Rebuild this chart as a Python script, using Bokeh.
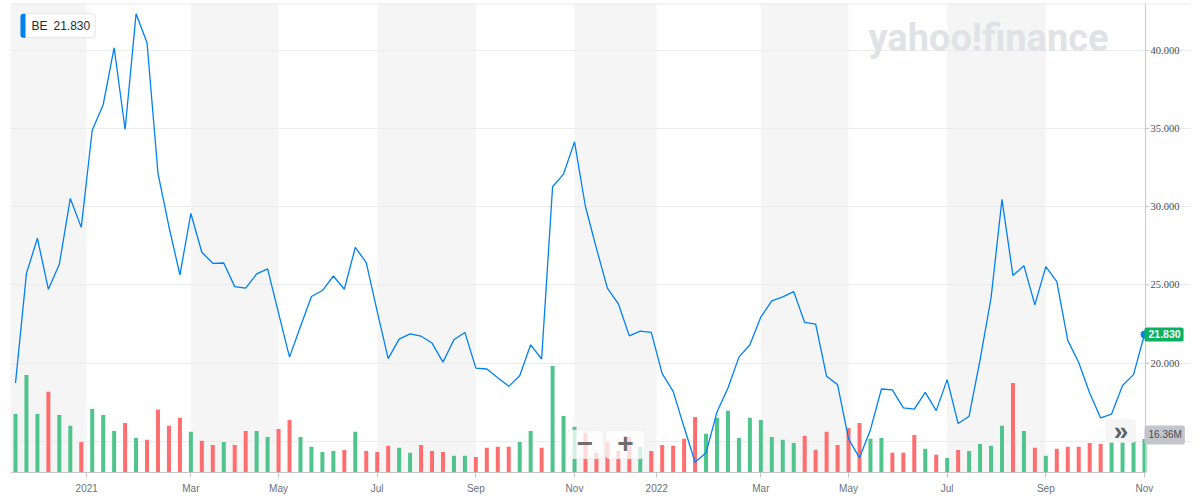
from bokeh.plotting import figure
from bokeh.models import (Range1d, FixedTicker, BoxAnnotation, Label, Span,
                          ColumnDataSource)
from bokeh.embed import file_html
from bokeh.resources import INLINE

# ---- data (weekly, Nov 9 2020 .. Oct 31 2022) ----
symbol = "BE"
price = [18.72, 25.74, 27.98, 24.72, 26.32, 30.53, 28.68, 34.89, 36.53, 40.17,
         34.94, 42.34, 40.49, 32.13, 28.72, 25.64, 29.57, 27.09, 26.38, 26.40,
         24.89, 24.79, 25.70, 26.02, 23.19, 20.38, 22.34, 24.26, 24.64, 25.57,
         24.72, 27.40, 26.43, 23.30, 20.28, 21.53, 21.87, 21.72, 21.28, 20.06,
         21.49, 21.96, 19.68, 19.62, 19.06, 18.51, 19.19, 21.17, 20.26, 31.28,
         32.09, 34.15, 30.00, 27.34, 24.79, 23.79, 21.74, 22.04, 21.96, 19.32,
         18.19, 15.89, 13.66, 14.26, 16.87, 18.40, 20.38, 21.17, 22.94, 23.98,
         24.23, 24.57, 22.60, 22.49, 19.15, 18.62, 15.15, 13.94, 15.74, 18.34,
         18.28, 17.13, 17.06, 18.13, 16.96, 18.94, 16.13, 16.60, 20.21, 24.15,
         30.47, 25.60, 26.23, 23.72, 26.17, 25.21, 21.45, 20.04, 18.09, 16.49,
         16.74, 18.57, 19.26, 21.83]
volume_m = [28.5, 47.4, 28.5, 39.3, 28.0, 22.7, 14.9, 30.9, 28.0, 20.2,
            24.1, 16.8, 15.9, 30.6, 22.8, 26.7, 19.8, 15.4, 13.4, 14.9,
            13.4, 20.2, 20.2, 17.3, 21.2, 25.6, 17.3, 12.5, 10.0, 10.5,
            11.0, 19.8, 10.5, 10.0, 13.0, 12.0, 9.6, 13.4, 10.5, 10.0,
            8.1, 8.1, 7.6, 12.0, 12.5, 12.5, 14.9, 20.2, 12.0, 51.8,
            27.5, 22.2, 19.3, 9.6, 14.9, 10.5, 17.3, 12.5, 10.5, 13.4,
            13.0, 16.4, 27.0, 18.8, 26.6, 30.0, 16.8, 26.6, 25.6, 17.3,
            15.9, 14.4, 17.8, 11.0, 19.8, 13.4, 21.7, 24.1, 16.4, 16.8,
            9.6, 9.6, 18.3, 11.5, 8.6, 7.1, 11.0, 10.5, 13.9, 13.0,
            22.7, 43.5, 20.2, 12.0, 8.1, 11.5, 12.5, 12.5, 14.4, 13.9,
            15.0, 15.0, 15.5, 16.36]
tick_pos = [6.5, 16, 24, 33, 42, 51, 58.5, 68, 76, 85, 94, 103]
tick_labels = ["2021", "Mar", "May", "Jul", "Sep", "Nov",
               "2022", "Mar", "May", "Jul", "Sep", "Nov"]
price_ticks = [15, 20, 25, 30, 35, 40]
price_tick_labels = ["", "20.000", "25.000", "30.000", "35.000", "40.000"]

UP, DOWN = "#4fc48c", "#ff6e6e"
idx = list(range(len(price)))
colors = [UP if i == 0 or price[i] >= price[i - 1] else DOWN for i in idx]
src = ColumnDataSource(dict(x=idx, price=price, vol=volume_m, color=colors))

PX = 10.961                     # pixels per week
X0 = -0.456                     # left edge of the plot area
AX = 103.1                      # position of the price axis

p = figure(width=1194, height=496, title=None,
           x_range=Range1d(X0, X0 + 1180 / PX), y_range=Range1d(13.0, 43.0),
           y_axis_location=None, toolbar_location=None, output_backend="svg",
           min_border_left=10, min_border_right=4, min_border_top=3, min_border_bottom=23)
p.extra_y_ranges = {"vol": Range1d(0, 228.2)}
p.outline_line_color = None
p.background_fill_color = "white"
p.border_fill_color = "white"

# alternating month bands
bounds = [None] + tick_pos
for i in range(0, len(bounds) - 1, 2):
    p.add_layout(BoxAnnotation(left=bounds[i], right=bounds[i + 1],
                               fill_color="#f5f5f5", fill_alpha=1.0,
                               line_color=None, level="image"))

# watermark
p.add_layout(Label(x=(868 - 15) / PX, y=40.81, text="yahoo!finance", text_font="Roboto",
                   text_font_style="bold", text_font_size="38px",
                   text_color="#e0e2e6", text_align="left",
                   text_baseline="alphabetic", level="underlay"))

# grid
p.xgrid.visible = False
p.ygrid.ticker = FixedTicker(ticks=price_ticks)
p.ygrid.bounds = (X0, AX)
p.ygrid.grid_line_color = "#ebebeb"
p.ygrid.grid_line_width = 1

# top border
p.add_layout(Span(location=43.0, dimension="width", line_color="#e2e2ec", line_width=1.5))

# bottom axis
xa = p.xaxis[0]
xa.ticker = FixedTicker(ticks=tick_pos)
xa.major_label_overrides = {t: l for t, l in zip(tick_pos, tick_labels)}
xa.bounds = (X0, AX)
xa.axis_line_color = "#c6c6c6"
xa.major_tick_line_color = "#c6c6c6"
xa.major_tick_out = 5
xa.major_tick_in = 0
xa.minor_tick_line_color = None
xa.major_label_standoff = 5
xa.major_label_text_font = "Liberation Sans"
xa.major_label_text_font_size = "10px"
xa.major_label_text_color = "#6b7178"

# price axis drawn at the right edge of the data
p.add_layout(Span(location=AX, dimension="height", line_color="#c6c6c6", line_width=1))
n = len(price_ticks)
p.segment(x0=[AX] * n, x1=[AX + 3 / PX] * n, y0=price_ticks, y1=price_ticks,
          line_color="#c6c6c6", line_width=1)
p.text(x=[AX] * n, y=price_ticks, text=price_tick_labels, x_offset=5,
       text_font="Liberation Sans", text_font_size="10.5px", text_color="#464e56",
       text_align="left", text_baseline="middle")

# volume bars and price line
p.vbar(x="x", top="vol", width=0.365, color="color", line_color=None,
       y_range_name="vol", source=src)
p.line(x="x", y="price", line_color="#0081f2", line_width=1.3, source=src)
p.scatter(x=[idx[-1]], y=[price[-1]], size=7, color="#0081f2")

# legend box
p.add_layout(Label(x=(20 - 15) / PX, y=41.577, text=f"{symbol}\u2002{price[-1]:.3f}",
                   text_font="Liberation Sans", text_font_size="12px",
                   text_color="#232a31", text_align="left", text_baseline="middle",
                   background_fill_color="white", border_line_color="#e4e4e4",
                   padding=dict(left=11, right=5, top=5, bottom=5), border_radius=3))
p.add_layout(BoxAnnotation(left=(20 - 15) / PX, right=(25 - 15) / PX, top=42.342, bottom=40.81,
                           fill_color="#0081f2", fill_alpha=1.0, line_color=None,
                           border_radius=dict(top_left=3, bottom_left=3,
                                              top_right=0, bottom_right=0)))

# zoom control
for l, r in [(50.33, 53.67), (53.83, 57.39)]:
    p.add_layout(BoxAnnotation(left=l, right=r, top=15.70, bottom=13.89,
                               fill_color="white", fill_alpha=0.75,
                               line_color="#eeeeee", line_alpha=0.8, border_radius=4))
for xx, t in [(51.96, "\u2212"), (55.65, "+")]:
    p.add_layout(Label(x=xx, y=14.83, text=t, text_font="Liberation Sans",
                       text_font_style="bold", text_font_size="28px",
                       text_color="#6e6e6e", text_align="center", text_baseline="middle"))

# scroll button
p.add_layout(BoxAnnotation(left=99.44, right=102.24, top=16.43, bottom=14.90,
                           fill_color="#f4f4f4", fill_alpha=0.95, line_color=None,
                           border_radius=4))
p.add_layout(Label(x=100.86, y=15.64, text="\u00bb", text_font="Liberation Sans",
                   text_font_style="bold", text_font_size="26px",
                   text_color="#5b636a", text_align="center", text_baseline="middle"))

# right-side value tags
p.add_layout(Label(x=idx[-1], y=price[-1], text=f"{price[-1]:.3f}",
                   text_font="Liberation Sans", text_font_style="bold",
                   text_font_size="10.5px", text_color="white",
                   text_align="left", text_baseline="middle",
                   background_fill_color="#0ab161", border_radius=2,
                   padding=dict(left=4, right=3, top=3, bottom=3)))
p.add_layout(Label(x=idx[-1], y=volume_m[-1], y_range_name="vol", y_offset=4,
                   text=f"{volume_m[-1]:.2f}M",
                   text_font="Liberation Sans", text_font_size="10px",
                   text_color="#464e56", text_align="left", text_baseline="middle",
                   background_fill_color="#c2c5cb", border_radius=2,
                   padding=dict(left=4, right=3, top=4, bottom=4)))

open("out.html", "w").write(file_html(p, INLINE))
